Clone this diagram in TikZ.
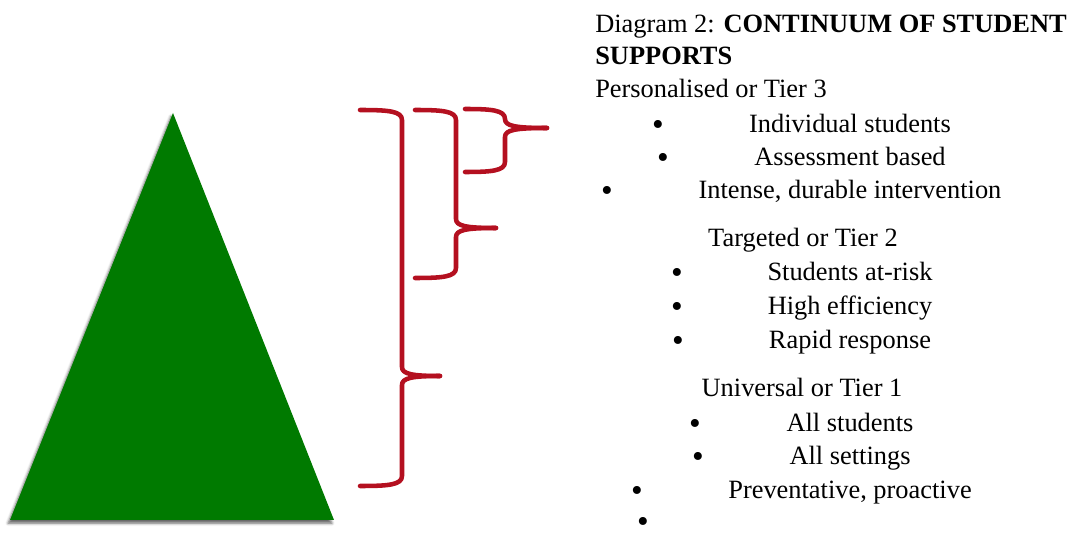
\documentclass[tikz,border=0pt]{standalone}
\usepackage{fontspec}
\setmainfont{Liberation Serif}
\usetikzlibrary{shadows.blur}
\definecolor{tgreen}{RGB}{0,122,0}
\definecolor{bred}{RGB}{180,16,32}
\tikzset{
  txt/.style={inner sep=0pt, font=\fontsize{19.8}{24}\selectfont},
  bul/.style={inner sep=0pt, font=\fontsize{25}{28}\selectfont, anchor=base, text depth=0pt},
  brace/.style={draw=bred, line width=3.4pt, line cap=round, line join=round}
}
\newcommand{\mybrace}[7]{% xL xV yT yM yB xT name
  \draw[brace] (#1,#3) .. controls (#2-14,#3) and (#2,#3+1) .. (#2,#3+10)
     -- (#2,#4-9) .. controls (#2,#4-2) and (#2+10,#4) .. (#6,#4);
  \draw[brace] (#6,#4) .. controls (#2+10,#4) and (#2,#4+2) .. (#2,#4+9)
     -- (#2,#5-10) .. controls (#2,#5-1) and (#2-14,#5) .. (#1,#5);
  \coordinate (#7) at (#6,#4);
}
\begin{document}
\begin{tikzpicture}[x=0.75pt,y=-0.75pt]
\useasboundingbox (0,0) rectangle (1072,541);
% triangle
\coordinate (apex) at (173,113);
\coordinate (bl) at (10,520);
\coordinate (br) at (334,520);
\fill[tgreen, blur shadow={shadow xshift=-1.5pt, shadow yshift=-2.5pt, shadow blur radius=2pt, shadow opacity=60}] (apex) -- (br) -- (bl) -- cycle;
% braces
\mybrace{360}{402}{110}{376}{486}{440}{b1}
\mybrace{415}{456}{110}{228}{278}{496}{b2}
\mybrace{465}{505}{109}{128}{172}{547}{b3}
% text
\node[txt, anchor=base west] (title) at (595,33) {Diagram 2: \textbf{CONTINUUM OF STUDENT}};
\node[txt, anchor=base west] (title2) at (595,65) {\textbf{SUPPORTS}};
\node[txt, anchor=base west] (t3) at (595,98) {Personalised or Tier 3};
\node[bul] (p1) at (658,136) {•};
\node[txt, anchor=base] (i1) at (850,133) {Individual students};
\node[bul] (p2) at (663,169) {•};
\node[txt, anchor=base] (i2) at (850,166) {Assessment based};
\node[bul] (p3) at (607,202) {•};
\node[txt, anchor=base] (i3) at (850,199) {Intense, durable intervention};
\node[txt, anchor=base] (t2) at (803,247) {Targeted or Tier 2};
\node[bul] (p4) at (677,284) {•};
\node[txt, anchor=base] (i4) at (850,281) {Students at-risk};
\node[bul] (p5) at (677,318) {•};
\node[txt, anchor=base] (i5) at (850,315) {High efficiency};
\node[bul] (p6) at (678,352) {•};
\node[txt, anchor=base] (i6) at (850,349) {Rapid response};
\node[txt, anchor=base] (t1) at (802,397) {Universal or Tier 1};
\node[bul] (p7) at (695,435) {•};
\node[txt, anchor=base] (i7) at (850,432) {All students};
\node[bul] (p8) at (698,468) {•};
\node[txt, anchor=base] (i8) at (850,465) {All settings};
\node[bul] (p9) at (637,502) {•};
\node[txt, anchor=base] (i9) at (850,499) {Preventative, proactive};
\node[bul] (p10) at (643,533) {•};
\end{tikzpicture}
\end{document}
